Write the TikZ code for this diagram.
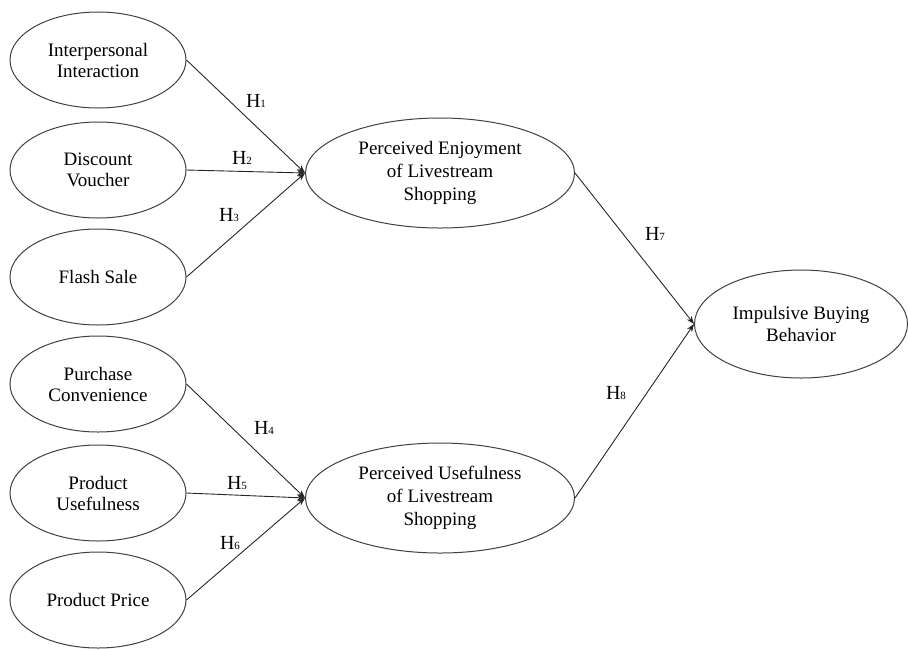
\documentclass[tikz,border=0pt]{standalone}
\usepackage{fontspec}
\setmainfont{Liberation Serif}
\usetikzlibrary{shapes.geometric,arrows.meta}
\newcommand{\hyp}[1]{H{\fontsize{5.5}{5.5}\selectfont #1}}

\begin{document}
\begin{tikzpicture}[x=0.5pt,y=-0.5pt,
  iv/.style={draw=black!75,line width=0.5pt,ellipse,inner sep=0pt,minimum width=88pt,minimum height=48pt,align=center,font=\fontsize{9.5}{10.5}\selectfont},
  med/.style={iv,minimum width=134.5pt,minimum height=55pt,font=\fontsize{9.5}{11.5}\selectfont},
  dep/.style={iv,minimum width=106.5pt,minimum height=54pt,font=\fontsize{9.5}{11}\selectfont},
  link/.style={-{Stealth[length=4pt,width=3pt]},line width=0.45pt,black!85},
  hlab/.style={inner sep=0pt,font=\fontsize{10}{10}\selectfont}]
\useasboundingbox (0,0) rectangle (909,649);

% independent variables
\node[iv] (inter) at (98,60) {Interpersonal\\Interaction};
\node[iv] (disc) at (98,170) {Discount\\Voucher};
\node[iv] (flash) at (98,277) {Flash Sale};
\node[iv] (conv) at (98,384) {Purchase\\Convenience};
\node[iv] (usef) at (98,493) {Product\\Usefulness};
\node[iv] (price) at (98,600) {Product Price};

% mediators and outcome
\node[med] (pe) at (440,173) {Perceived Enjoyment\\of Livestream\\Shopping};
\node[med] (pu) at (440,498) {Perceived Usefulness\\of Livestream\\Shopping};
\node[dep] (ibb) at (801,324) {Impulsive Buying\\Behavior};

\draw[link] (inter.east) -- (pe.west);
\draw[link] (disc.east) -- (pe.west);
\draw[link] (flash.east) -- (pe.west);
\draw[link] (conv.east) -- (pu.west);
\draw[link] (usef.east) -- (pu.west);
\draw[link] (price.east) -- (pu.west);
\draw[link] (pe.east) -- (ibb.west);
\draw[link] (pu.east) -- (ibb.west);

% hypotheses
\node[hlab] (h1) at (256,101) {\hyp{1}};
\node[hlab] (h2) at (242,158) {\hyp{2}};
\node[hlab] (h3) at (229,215) {\hyp{3}};
\node[hlab] (h4) at (264,428) {\hyp{4}};
\node[hlab] (h5) at (237,483) {\hyp{5}};
\node[hlab] (h6) at (230,543) {\hyp{6}};
\node[hlab] (h7) at (655,234) {\hyp{7}};
\node[hlab] (h8) at (616,393) {\hyp{8}};

\end{tikzpicture}
\end{document}
